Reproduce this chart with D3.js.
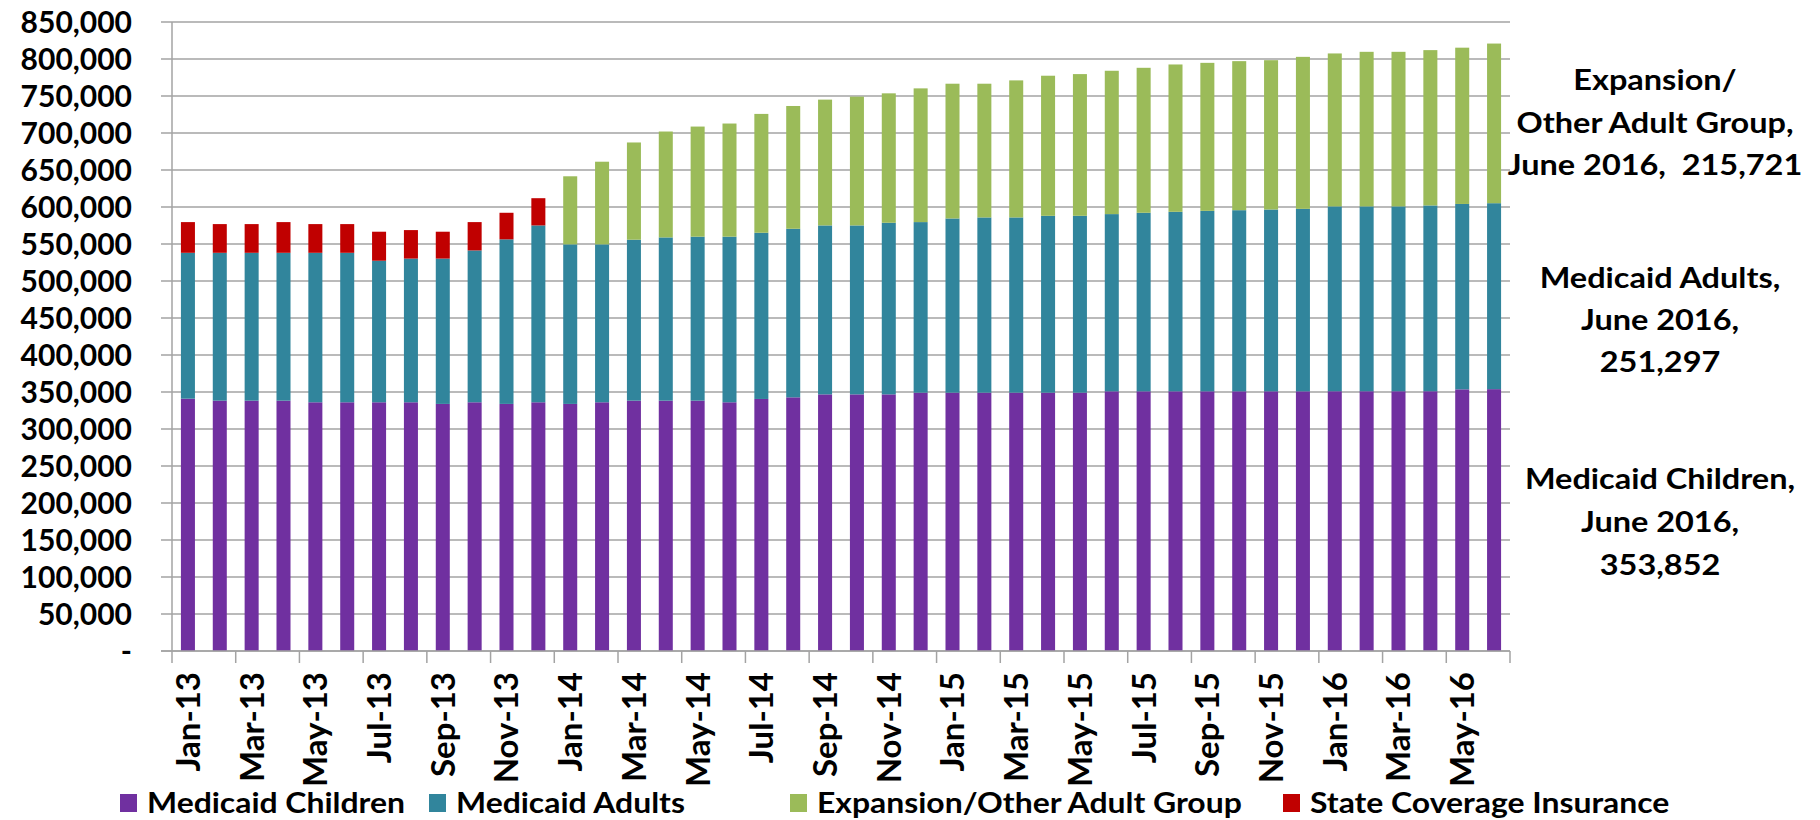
<!DOCTYPE html>
<html>
<head>
<meta charset="utf-8">
<script src="https://cdn.jsdelivr.net/npm/d3@7"></script>
<style>
  body { margin: 0; background: #fff; }
  text { font-family: Lato, "Open Sans", sans-serif; font-weight: bold; fill: #000; }
</style>
</head>
<body>
<div id="chart"></div>
<script>
const months = ['Jan-13','Feb-13','Mar-13','Apr-13','May-13','Jun-13','Jul-13','Aug-13','Sep-13','Oct-13','Nov-13','Dec-13',
  'Jan-14','Feb-14','Mar-14','Apr-14','May-14','Jun-14','Jul-14','Aug-14','Sep-14','Oct-14','Nov-14','Dec-14',
  'Jan-15','Feb-15','Mar-15','Apr-15','May-15','Jun-15','Jul-15','Aug-15','Sep-15','Oct-15','Nov-15','Dec-15',
  'Jan-16','Feb-16','Mar-16','Apr-16','May-16','Jun-16'];

const seriesNames = ['Medicaid Children', 'Medicaid Adults', 'Expansion/Other Adult Group', 'State Coverage Insurance'];

const children = [341000,338300,338300,338300,336100,336100,336100,336100,333900,336100,333900,336100,
  333900,336100,338300,338300,338300,336100,340600,342800,346800,346800,346800,349100,
  349100,349100,349100,349100,349100,350900,350900,350900,350900,350900,350900,350900,
  351000,351000,351000,351000,353600,353852];

const adults = [197100,199800,199800,199800,202000,202000,191300,194200,196400,205200,222400,239000,
  215600,213400,217500,220600,221600,223800,224600,227800,228300,228300,231900,230500,
  235400,236800,236800,239000,239000,239500,241300,242600,243900,244800,245700,246600,
  249800,249800,249800,251100,250500,251297];

const expansion = [0,0,0,0,0,0,0,0,0,0,0,0,
  92000,111700,131400,143100,148800,152900,160600,165900,170000,174000,174900,180700,
  182100,180700,185200,189300,191500,193700,195900,199100,200000,201400,201800,205400,
  206700,208900,208900,209900,211200,215721];

const sci = [41500,38800,38800,41500,38800,38800,39200,38500,36300,38300,35900,36800,
  0,0,0,0,0,0,0,0,0,0,0,0, 0,0,0,0,0,0,0,0,0,0,0,0, 0,0,0,0,0,0];

const yTicks = d3.range(0, 850001, 50000);

const notes = [
  ['Expansion/', 'Other Adult Group,', 'June 2016,  215,721'],
  ['Medicaid Adults,', 'June 2016,', '251,297'],
  ['Medicaid Children,', 'June 2016,', '353,852']
];

const colors = ['#7030A0', '#31859C', '#9BBB59', '#C00000'];

const width = 1820, height = 820;
const svg = d3.select('#chart').append('svg')
  .attr('width', width).attr('height', height);

const x = d3.scaleBand().domain(months).range([172, 1510]).paddingInner(0.56).paddingOuter(0.28);
const y = d3.scaleLinear().domain([0, 850000]).range([651, 22]);

// gridlines
svg.append('g').selectAll('line')
  .data(yTicks)
  .enter().append('line')
  .attr('x1', 161).attr('x2', 1510)
  .attr('y1', d => y(d)).attr('y2', d => y(d))
  .attr('stroke', '#a3a3a3').attr('stroke-width', 1.5);

// y axis line
svg.append('line')
  .attr('x1', 172).attr('x2', 172).attr('y1', y(850000)).attr('y2', y(0))
  .attr('stroke', '#a3a3a3').attr('stroke-width', 1.5);

// y labels
svg.append('g').selectAll('text')
  .data(yTicks)
  .enter().append('text')
  .attr('x', 132).attr('y', d => y(d)).attr('dy', '0.36em')
  .attr('text-anchor', 'end')
  .style('font-size', '30px')
  .text(d => d === 0 ? '-' : d3.format(',')(d));

// stacked bars
const table = months.map((m, i) => ({
  month: m,
  'Medicaid Children': children[i],
  'Medicaid Adults': adults[i],
  'Expansion/Other Adult Group': expansion[i],
  'State Coverage Insurance': sci[i]
}));
const stacked = d3.stack().keys(seriesNames)(table);

svg.append('g').selectAll('g')
  .data(stacked)
  .enter().append('g')
  .attr('fill', (d, i) => colors[i])
  .selectAll('rect')
  .data(d => d.filter(s => s[1] > s[0]))
  .enter().append('rect')
  .attr('x', d => x(d.data.month))
  .attr('width', x.bandwidth())
  .attr('y', d => y(d[1]))
  .attr('height', d => y(d[0]) - y(d[1]));

// x axis line and tick marks every 2 months
svg.append('line')
  .attr('x1', 161).attr('x2', 1510).attr('y1', y(0)).attr('y2', y(0))
  .attr('stroke', '#a3a3a3').attr('stroke-width', 1.5);

const tickIdx = d3.range(0, months.length + 1, 2);
svg.append('g').selectAll('line')
  .data(tickIdx)
  .enter().append('line')
  .attr('x1', i => x.range()[0] + i * x.step())
  .attr('x2', i => x.range()[0] + i * x.step())
  .attr('y1', y(0)).attr('y2', y(0) + 12)
  .attr('stroke', '#a3a3a3').attr('stroke-width', 1.5);

// x labels
svg.append('g').selectAll('text')
  .data(months.filter((m, i) => i % 2 === 0))
  .enter().append('text')
  .attr('transform', m => `translate(${x(m) + x.bandwidth() / 2},672) rotate(-90)`)
  .attr('dy', '0.36em')
  .attr('text-anchor', 'end')
  .style('font-size', '33px')
  .text(m => m);

// annotations on the right (text a little stretched sideways, like the original)
const noteCenters = [1655, 1660, 1660];
const noteBaselines = [[90, 133, 175], [288, 330, 372], [489, 532, 575]];
notes.forEach((lines, k) => {
  svg.append('g')
    .attr('transform', `translate(${noteCenters[k]},0) scale(1.12,1)`)
    .selectAll('text')
    .data(lines)
    .enter().append('text')
    .attr('x', 0)
    .attr('y', (d, j) => noteBaselines[k][j])
    .attr('text-anchor', 'middle')
    .style('font-size', '29px')
    .style('white-space', 'pre')
    .text(d => d);
});

// legend
const legendX = [120, 429, 790, 1283];
const legend = svg.append('g').selectAll('g')
  .data(seriesNames)
  .enter().append('g')
  .attr('transform', (d, i) => `translate(${legendX[i]},794)`);
legend.append('rect')
  .attr('width', 17).attr('height', 18)
  .attr('fill', (d, i) => colors[i]);
legend.append('g')
  .attr('transform', 'translate(27,19) scale(1.1,1)')
  .append('text')
  .style('font-size', '29px')
  .text(d => d);
</script>
</body>
</html>
